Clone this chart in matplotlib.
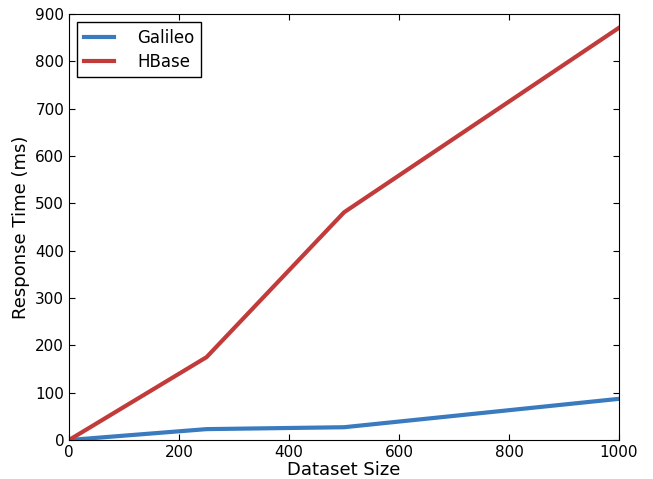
import matplotlib
matplotlib.use("Agg")
import matplotlib.pyplot as plt

# dataset sizes and response times
sizes = [0, 250, 500, 1000]
galileo = [0, 23, 27, 87]
hbase = [0, 175, 481, 871]

fig = plt.figure(figsize=(6.53, 4.79), dpi=100)
ax = fig.add_axes([0.1057, 0.0814, 0.8423, 0.8894])

ax.plot(sizes, galileo, color='#3a7bbf', lw=3, label='Galileo')
ax.plot(sizes, hbase, color='#c23b3b', lw=3, label='HBase')

ax.set_xlim(0, 1000)
ax.set_ylim(0, 900)
ax.set_xticks(range(0, 1001, 200))
ax.set_yticks(range(0, 901, 100))
ax.tick_params(direction='in', top=True, right=True, length=4, labelsize=11)
ax.set_xlabel('Dataset Size', fontsize=13, labelpad=1)
ax.set_ylabel('Response Time (ms)', fontsize=13)

leg = ax.legend(loc='upper left', fontsize=12, fancybox=False, framealpha=1,
                handlelength=1.8, handletextpad=1.4, labelspacing=0.35,
                borderaxespad=0.5, borderpad=0.4)
leg.get_frame().set_edgecolor('black')

fig.savefig('out.png', dpi=100)
